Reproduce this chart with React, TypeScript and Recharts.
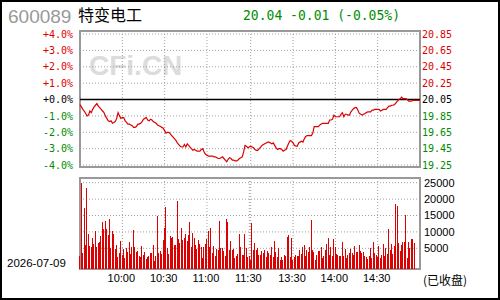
import React from "react";
import {
  LineChart,
  Line,
  BarChart,
  Bar,
  XAxis,
  YAxis,
  CartesianGrid,
  ReferenceLine,
  ReferenceArea,
} from "recharts";

const PREV_CLOSE = 20.05;

const PRICES = [
  19.99, 19.96, 19.93, 19.91, 19.88, 19.85, 19.86, 19.91, 19.89, 19.93,
  19.96, 19.98, 20.0, 19.97, 19.95, 19.93, 19.91, 19.89, 19.85, 19.82,
  19.79, 19.78, 19.79, 19.76, 19.77, 19.78, 19.82, 19.89, 19.85, 19.82,
  19.83, 19.83, 19.79, 19.77, 19.75, 19.75, 19.74, 19.73, 19.71, 19.71,
  19.72, 19.75, 19.75, 19.76, 19.78, 19.81, 19.82, 19.83, 19.8, 19.79,
  19.81, 19.8, 19.78, 19.77, 19.76, 19.74, 19.73, 19.72, 19.71, 19.7,
  19.67, 19.64, 19.65, 19.65, 19.63, 19.61, 19.59, 19.57, 19.55, 19.52,
  19.5, 19.48, 19.47, 19.47, 19.5, 19.47, 19.51, 19.49, 19.47, 19.45,
  19.43, 19.44, 19.43, 19.42, 19.42, 19.42, 19.44, 19.45, 19.41, 19.38,
  19.37, 19.36, 19.36, 19.36, 19.36, 19.35, 19.35, 19.34, 19.33, 19.33,
  19.34, 19.35, 19.33, 19.31, 19.29, 19.32, 19.34, 19.33, 19.31, 19.31,
  19.3, 19.3, 19.31, 19.33, 19.34, 19.35, 19.41, 19.49, 19.48, 19.46,
  19.47, 19.48, 19.47, 19.46, 19.44, 19.43, 19.43, 19.45, 19.47, 19.49,
  19.5, 19.51, 19.52, 19.53, 19.53, 19.52, 19.51, 19.52, 19.49, 19.46,
  19.44, 19.45, 19.45, 19.44, 19.42, 19.43, 19.44, 19.48, 19.52, 19.55,
  19.54, 19.52, 19.49, 19.48, 19.48, 19.52, 19.53, 19.54, 19.53, 19.57,
  19.6, 19.61, 19.61, 19.61, 19.61, 19.64, 19.72, 19.72, 19.72, 19.72,
  19.74, 19.75, 19.76, 19.76, 19.76, 19.76, 19.76, 19.8, 19.8, 19.81,
  19.86, 19.84, 19.84, 19.84, 19.84, 19.87, 19.89, 19.84, 19.87, 19.87,
  19.86, 19.86, 19.9, 19.92, 19.94, 19.95, 19.95, 19.92, 19.88, 19.87,
  19.86, 19.87, 19.88, 19.89, 19.9, 19.9, 19.9, 19.92, 19.92, 19.93,
  19.93, 19.93, 19.93, 19.91, 19.92, 19.93, 19.93, 19.93, 19.95, 19.97,
  19.97, 19.98, 19.98, 19.99, 20.01, 20.03, 20.05, 20.06, 20.08, 20.06,
  20.06, 20.06, 20.05, 20.03, 20.03, 20.03, 20.04, 20.04, 20.04, 20.04,
  20.04, 20.04,
];

const VOLUMES = [
  2700, 25000, 3500, 17400, 6000, 23400, 9400, 5700, 5400, 8200,
  6400, 10300, 5400, 6700, 7000, 8700, 13100, 10900, 13400, 10900,
  9000, 14000, 5200, 10300, 9400, 4800, 6000, 2300, 3700, 7200,
  3000, 4800, 2200, 5100, 4000, 7000, 3300, 5400, 10600, 5400,
  3800, 4100, 2800, 2300, 5800, 3000, 4000, 1800, 2500, 2800,
  3700, 3700, 6000, 1200, 2700, 15000, 3500, 4100, 3400, 7600,
  11200, 17700, 5100, 3400, 8900, 8000, 8500, 6100, 6000, 19400,
  7800, 6500, 11300, 7400, 8200, 9500, 7100, 9000, 13000, 5400,
  9800, 8200, 6100, 4700, 7500, 6200, 5400, 2000, 5300, 6400,
  7800, 10400, 5300, 11200, 3600, 5700, 2800, 4700, 4400, 13300,
  5100, 5100, 4200, 2700, 13900, 13000, 4400, 7300, 4500, 4700,
  1900, 2800, 3300, 9400, 5400, 3000, 3000, 9400, 5000, 2300,
  2700, 1300, 12800, 4400, 6700, 4400, 5100, 3000, 3000, 4300,
  3600, 4600, 2500, 4100, 3600, 3000, 5400, 2300, 7300, 4000,
  2300, 5200, 1400, 2500, 1500, 3100, 2600, 8500, 9000, 2500,
  8000, 1400, 2500, 2900, 2800, 2700, 4500, 3200, 5400, 6000,
  2800, 4500, 3900, 5300, 13600, 4500, 4000, 1400, 3000, 4200,
  4200, 5300, 2200, 2800, 4500, 6300, 8100, 3100, 5300, 2700,
  7900, 5300, 3200, 3000, 2700, 2700, 7000, 2700, 4800, 2100,
  3000, 3700, 4900, 3500, 3000, 5700, 4000, 3800, 5900, 4300,
  3500, 4000, 2800, 2300, 1800, 2600, 5000, 2000, 6900, 3700,
  3100, 2500, 5700, 1900, 3000, 6300, 2700, 5000, 3200, 10800,
  4400, 6300, 3400, 5600, 18400, 18000, 6600, 4300, 5900, 6800,
  6800, 15100, 2200, 6900, 5000, 7700, 7700, 6600, 0, 0,
  0, 0,
];

const PRICE_TICKS = [19.25, 19.45, 19.65, 19.85, 20.05, 20.25, 20.45, 20.65, 20.85];
const PRICE_DOMAIN: [number, number] = [19.226, 20.887];
const VOLUME_TICKS = [5000, 10000, 15000, 20000, 25000];
const VOLUME_DOMAIN: [number, number] = [-1300, 26430];
const TIME_TICKS = [30, 60, 90, 120, 121, 151, 181, 211];
const TIME_LABELS = ["10:00", "10:30", "11:00", "11:30", "", "13:30", "14:00", "14:30"];
const LAST_INDEX = PRICES.length - 1;

const rows = PRICES.map((p, i) => ({ i, p, v: VOLUMES[i] }));

const RED = "#dd0000";
const GREEN = "#008c00";
const GRID = "#a0a0a0";
const BORDER = "#999999";
const MONO = "'DejaVu Sans Mono', 'Liberation Mono', monospace";
const SANS = "'Liberation Sans', Arial, sans-serif";
const CJK = "'Noto Sans CJK SC', 'Noto Sans', sans-serif";

const colorOf = (v: number) => (v > PREV_CLOSE ? RED : v < PREV_CLOSE ? GREEN : "#000");

const pctLabel = (v: number) => {
  const pct = ((v - PREV_CLOSE) / PREV_CLOSE) * 100;
  const sign = pct < -0.0001 ? "-" : "+";
  return sign + Math.abs(pct).toFixed(1) + "%";
};

const LeftTick = (props: any) => {
  const v = props.payload.value;
  return (
    <text x={73} y={props.y} dy="0.36em" textAnchor="end" fontFamily={MONO} fontSize={10} fill={colorOf(v)}>
      {pctLabel(v)}
    </text>
  );
};

const RightTick = (props: any) => {
  const v = props.payload.value;
  return (
    <text x={422} y={props.y} dy="0.36em" textAnchor="start" fontFamily={MONO} fontSize={10} fill={colorOf(v)}>
      {v.toFixed(2)}
    </text>
  );
};

const VolTick = (props: any) => (
  <text x={424} y={props.y} dy="0.36em" textAnchor="start" fontFamily={SANS} fontSize={11} fill="#000">
    {props.payload.value}
  </text>
);

const TimeTick = (props: any) => {
  const idx = TIME_TICKS.indexOf(props.payload.value);
  const label = TIME_LABELS[idx] || "";
  return (
    <text x={props.x - 1} y={112} textAnchor="middle" fontFamily={SANS} fontSize={11} fill="#000">
      {label}
    </text>
  );
};

const CrispBar = (props: any) => {
  const { x, y, width, height } = props;
  if (!height || height <= 0) return null;
  const left = Math.round(x + width / 2 - 0.5);
  const top = Math.round(y);
  const bottom = Math.round(y + height);
  return <rect x={left} y={top} width={1} height={bottom - top} fill={RED} shapeRendering="crispEdges" />;
};

export default function App() {
  return (
    <div style={{ position: "absolute", left: 0, top: 0, width: 500, height: 300, background: "#fff", overflow: "hidden" }}>
      <svg width={500} height={300} style={{ position: "absolute", left: 0, top: 0 }}>
        <rect x={1} y={1} width={498} height={298} fill="none" stroke="#000" strokeWidth={2} />
        <text x={89} y={75} fontFamily={SANS} fontWeight="bold" fontSize={28} fill="#dcdcdc">
          CFi.CN
        </text>
        <text x={8} y={23} fontFamily={SANS} fontSize={19} fill="#999">
          600089
        </text>
        <text x={78} y={21} fontFamily={CJK} fontSize={16} fill="#000">
          特变电工
        </text>
        <text x={243} y={19.5} fontFamily={MONO} fontSize={14} fill={GREEN} textLength={157} lengthAdjust="spacingAndGlyphs">
          20.04 -0.01 (-0.05%)
        </text>
        <text x={7} y={267} fontFamily={SANS} fontSize={11.5} fill="#000">
          2026-07-09
        </text>
        <text x={423} y={285} fontFamily={CJK} fontSize={12} fill="#000">
          (已收盘)
        </text>
      </svg>

      <div style={{ position: "absolute", left: 0, top: 0 }}>
        <LineChart width={500} height={175} data={rows} margin={{ top: 31, right: 0, bottom: 8, left: 0 }}>
          <XAxis dataKey="i" type="number" domain={[0, LAST_INDEX]} ticks={TIME_TICKS} hide />
          <YAxis
            yAxisId="l"
            orientation="left"
            width={80}
            domain={PRICE_DOMAIN}
            ticks={PRICE_TICKS}
            allowDataOverflow
            axisLine={false}
            tickLine={false}
            tick={LeftTick}
            interval={0}
          />
          <YAxis
            yAxisId="r"
            orientation="right"
            width={80}
            domain={PRICE_DOMAIN}
            ticks={PRICE_TICKS}
            allowDataOverflow
            axisLine={false}
            tickLine={false}
            tick={RightTick}
            interval={0}
          />
          <CartesianGrid yAxisId="l" stroke={GRID} strokeDasharray="1 2" />
          <ReferenceArea
            yAxisId="l"
            x1={0}
            x2={LAST_INDEX}
            y1={PRICE_DOMAIN[0]}
            y2={PRICE_DOMAIN[1]}
            fill="none"
            fillOpacity={0}
            stroke={BORDER}
            strokeWidth={2}
            ifOverflow="visible"
          />
          <ReferenceLine yAxisId="l" y={PREV_CLOSE} stroke="#000" strokeWidth={1.5} />
          <Line
            yAxisId="l"
            dataKey="p"
            type="linear"
            stroke={RED}
            strokeWidth={1.2}
            dot={false}
            isAnimationActive={false}
          />
        </LineChart>
      </div>

      <div style={{ position: "absolute", left: 0, top: 170 }}>
        <BarChart width={500} height={130} data={rows} margin={{ top: 8, right: 0, bottom: 1, left: 80 }}>
          <XAxis
            dataKey="i"
            type="number"
            domain={[0, LAST_INDEX]}
            ticks={TIME_TICKS}
            interval={0}
            height={30}
            axisLine={false}
            tickLine={false}
            tick={TimeTick}
          />
          <YAxis
            yAxisId="v"
            orientation="right"
            width={80}
            domain={VOLUME_DOMAIN}
            ticks={VOLUME_TICKS}
            allowDataOverflow
            axisLine={false}
            tickLine={false}
            tick={VolTick}
            interval={0}
          />
          <CartesianGrid yAxisId="v" stroke={GRID} strokeDasharray="1 2" />
          <ReferenceArea
            yAxisId="v"
            x1={0}
            x2={LAST_INDEX}
            y1={VOLUME_DOMAIN[0]}
            y2={VOLUME_DOMAIN[1]}
            fill="none"
            fillOpacity={0}
            stroke={BORDER}
            strokeWidth={2}
            ifOverflow="visible"
          />
          <Bar
            yAxisId="v"
            dataKey={(d: any) => (d.v > 0 ? [VOLUME_DOMAIN[0], d.v] : null)}
            fill={RED}
            barSize={1}
            shape={CrispBar}
            isAnimationActive={false}
          />
        </BarChart>
      </div>
    </div>
  );
}
